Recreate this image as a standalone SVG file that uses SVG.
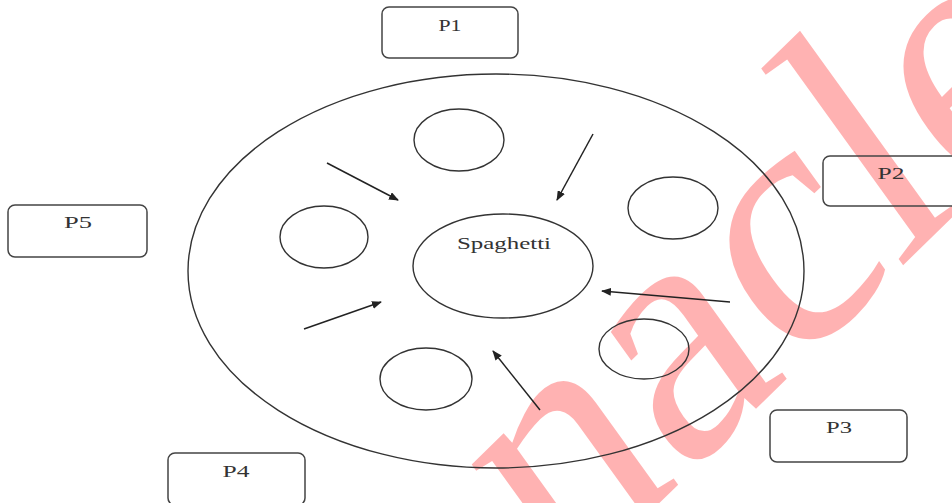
<svg xmlns="http://www.w3.org/2000/svg" width="952" height="503" viewBox="0 0 952 503">
<defs>
<style>
.box{fill:none;stroke:#444;stroke-width:1.5}
.shape{fill:none;stroke:#333;stroke-width:1.4}
.lbl{font-family:"Liberation Serif","Times New Roman",serif;font-size:17px;fill:#333;text-anchor:middle}
.edge{stroke:#222;stroke-width:1.5;fill:none;marker-end:url(#ah)}
.wm{font-family:"Liberation Serif","Times New Roman",serif;font-size:370px;fill:#ff0000;fill-opacity:0.3}
</style>
<marker id="ah" viewBox="0 0 10 8" refX="9" refY="4" markerWidth="10" markerHeight="8" markerUnits="userSpaceOnUse" orient="auto">
<path d="M0,0 L10,4 L0,8 Z" fill="#222"/>
</marker>
</defs>
<rect width="952" height="503" fill="#fff"/>
<text class="wm" transform="translate(560,600) scale(0.86,1) rotate(-40)">nacle</text>
<g id="plate"><ellipse class="shape" cx="496" cy="271" rx="308" ry="197"/></g>
<g id="spaghetti"><ellipse class="shape" cx="503" cy="266" rx="90" ry="52"/><text class="lbl" x="504" y="249" textLength="94" lengthAdjust="spacingAndGlyphs">Spaghetti</text></g>
<g id="plate-top"><ellipse class="shape" cx="459" cy="140" rx="45" ry="31"/></g>
<g id="plate-left"><ellipse class="shape" cx="324" cy="237" rx="44" ry="31"/></g>
<g id="plate-right-top"><ellipse class="shape" cx="673" cy="208" rx="45" ry="31"/></g>
<g id="plate-right-bottom"><ellipse class="shape" cx="644" cy="349" rx="45" ry="30"/></g>
<g id="plate-bottom"><ellipse class="shape" cx="426" cy="379" rx="46" ry="31"/></g>
<g id="p1"><rect class="box" x="382" y="7" width="136" height="51" rx="7"/><text class="lbl" x="450" y="31" textLength="23" lengthAdjust="spacingAndGlyphs">P1</text></g>
<g id="p2"><rect class="box" x="823" y="156" width="137" height="50" rx="7"/><text class="lbl" x="891" y="179" textLength="27" lengthAdjust="spacingAndGlyphs">P2</text></g>
<g id="p3"><rect class="box" x="770" y="410" width="137" height="52" rx="7"/><text class="lbl" x="839" y="433" textLength="26" lengthAdjust="spacingAndGlyphs">P3</text></g>
<g id="p4"><rect class="box" x="168" y="453" width="137" height="52" rx="7"/><text class="lbl" x="236" y="477" textLength="27" lengthAdjust="spacingAndGlyphs">P4</text></g>
<g id="p5"><rect class="box" x="8" y="205" width="139" height="52" rx="7"/><text class="lbl" x="78" y="228" textLength="28" lengthAdjust="spacingAndGlyphs">P5</text></g>
<g id="connectors">
<line class="edge" x1="327" y1="163" x2="398" y2="200"/>
<line class="edge" x1="593" y1="134" x2="557" y2="200"/>
<line class="edge" x1="730" y1="302" x2="602" y2="291"/>
<line class="edge" x1="540" y1="410" x2="493" y2="351"/>
<line class="edge" x1="304" y1="329" x2="381" y2="302"/>
</g>
</svg>
